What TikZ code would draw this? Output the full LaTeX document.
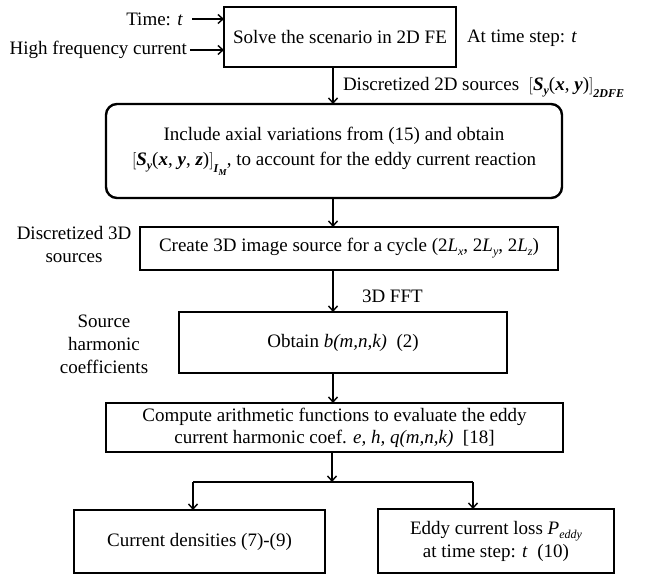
\documentclass[tikz,border=0pt]{standalone}
\usepackage{fontspec}
\setmainfont{Liberation Serif}
\usetikzlibrary{arrows.meta,calc}
\newcommand{\bi}[1]{\textbf{\textit{#1}}}
\newcommand{\lsub}[1]{\raisebox{-4pt}{\fontsize{12}{12}\selectfont #1}}
\newcommand{\dsub}[1]{\raisebox{-7pt}{\fontsize{12}{12}\selectfont #1}}
\begin{document}
\fontsize{19}{25}\selectfont
\begin{tikzpicture}[x=1pt,y=-1pt,
  box/.style={draw,line width=2pt,inner sep=0pt,outer sep=0pt,align=center,font=\fontsize{19}{25}\selectfont},
  lbl/.style={inner sep=0pt,outer sep=0pt,align=center,font=\fontsize{19}{23}\selectfont},
  arr/.style={line width=1.4pt,-{Straight Barb[length=5pt,width=9pt,line width=1.4pt]}},
  ln/.style={line width=1.6pt}]
\useasboundingbox (0,0) rectangle (648,577);
% boxes
\node[box,minimum width=232pt,minimum height=60pt] (b1) at (340,37) {Solve the scenario in 2D FE};
\node[box,rounded corners=11pt,line width=2.4pt,minimum width=456pt,minimum height=94pt] (b2) at (334,151)
  {Include axial variations from (15) and obtain\\
   $\big[$\bi{S}\lsub{\bi{y}}(\bi{x}, \bi{y}, \bi{z})$\big]$\dsub{\bi{I}\raisebox{-3pt}{\fontsize{9}{9}\selectfont\bi{M}}}, to account for the eddy current reaction};
\node[box,minimum width=418pt,minimum height=43pt] (b3) at (349,248.5)
  {Create 3D image source for a cycle (2\textit{L}\lsub{\textit{x}}, 2\textit{L}\lsub{\textit{y}}, 2\textit{L}\lsub{\textit{z}})};
\node[box,minimum width=328pt,minimum height=61pt] (b4) at (343,342.5) {Obtain \textit{b(m,n,k)}~~(2)};
\node[box,minimum width=457pt,minimum height=49pt,font=\fontsize{19}{22}\selectfont] (b5) at (334.5,427.5)
  {Compute arithmetic functions to evaluate the eddy\\ current harmonic coef. \textit{e, h, q(m,n,k)}~~[18]};
\node[box,minimum width=251pt,minimum height=63pt] (b6) at (199.5,541.5) {Current densities (7)-(9)};
\node[box,minimum width=236pt,minimum height=64pt,font=\fontsize{19}{23}\selectfont] (b7) at (496,541)
  {Eddy current loss \textit{P}\lsub{\textit{eddy}}\\ at time step: \textit{t}~~(10)};
% side labels
\node[lbl,anchor=east] (tm) at (183,19) {Time: \textit{t}};
\node[lbl,anchor=east] (hf) at (187,50) {High frequency current};
\node[lbl,anchor=west] (ats) at (467,38) {At time step: \textit{t}};
\node[lbl,anchor=west] (d2) at (343,87)
  {Discretized 2D sources~ $\big[$\bi{S}\lsub{\bi{y}}(\bi{x}, \bi{y})$\big]$\dsub{\bi{2DFE}}};
\node[lbl] (d3) at (74,245) {Discretized 3D\\ sources};
\node[lbl,anchor=west] (fft) at (362,296) {3D FFT};
\node[lbl] (shc) at (104,344) {Source\\ harmonic\\ coefficients};
% connectors
\coordinate (ax) at (333,0);
\coordinate (br) at (332,482);
\coordinate (bl) at (193,482);
\coordinate (brr) at (473,482);
\draw[arr,shorten <=9pt] (tm.east) -- (tm.east -| b1.west);
\draw[arr,shorten <=3pt] (hf.east) -- (hf.east -| b1.west);
\draw[arr] (b1.south -| ax) -- (b2.north -| ax);
\draw[arr] (b2.south -| ax) -- (b3.north -| ax);
\draw[arr] (b3.south -| ax) -- (b4.north -| ax);
\draw[arr] (b4.south -| ax) -- (b5.north -| ax);
\draw[arr] (b5.south -| br) -- (br);
\draw[ln] (bl) -- (brr);
\draw[arr] (bl) -- (b6.north -| bl);
\draw[arr] (brr) -- (b7.north -| brr);
\end{tikzpicture}
\end{document}
